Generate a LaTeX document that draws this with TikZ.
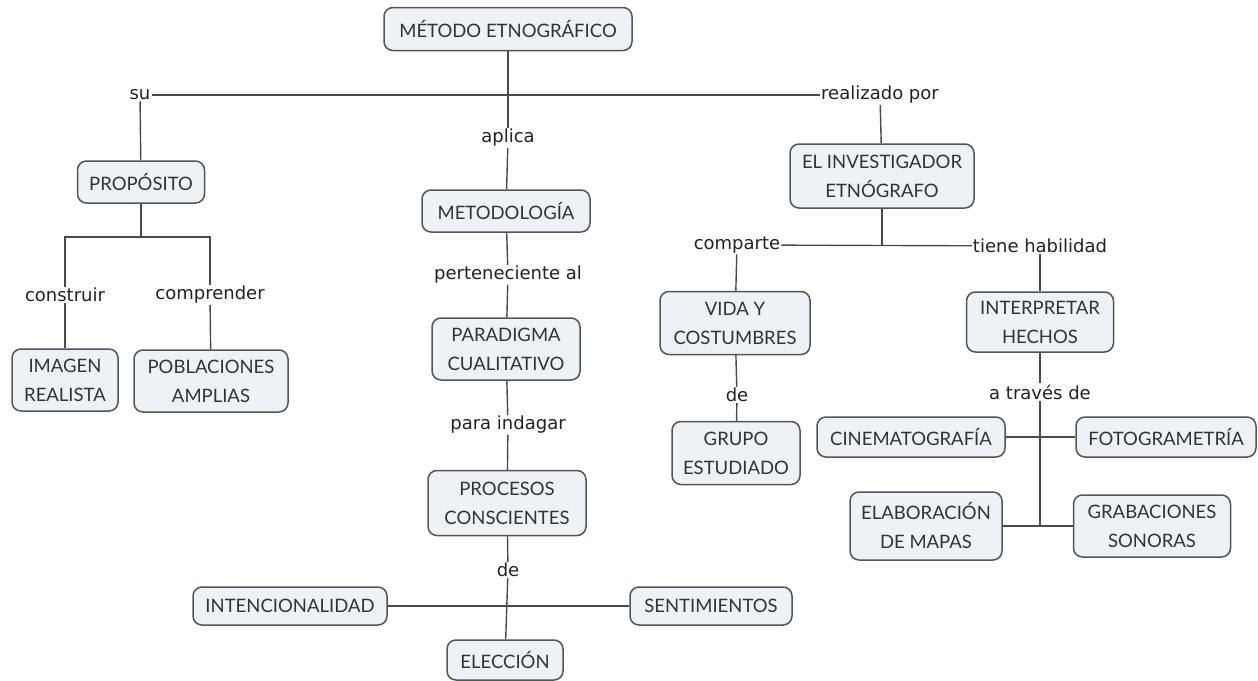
\documentclass[tikz,border=0pt]{standalone}
\usepackage{fontspec}
\setmainfont{Lato}
\newfontfamily\linkfont{DejaVu Sans}
\definecolor{boxfill}{HTML}{EDF2F6}
\definecolor{boxline}{HTML}{555555}
\definecolor{conceptText}{HTML}{333333}
\definecolor{linkText}{HTML}{222222}
\definecolor{lineGray}{HTML}{4A4A4A}
\begin{document}
\begin{tikzpicture}[x=1pt,y=-1pt,
  concept/.style={draw=boxline, line width=1.5pt, rounded corners=9pt, fill=boxfill,
    text=conceptText, font=\fontsize{18.5}{29}\selectfont, align=center, inner sep=0pt},
  linkword/.style={font=\linkfont\fontsize{18}{20}\selectfont, text=linkText, inner sep=1pt},
  conn/.style={draw=lineGray, line width=1.4pt}]
\useasboundingbox[fill=white] (0,0) rectangle (1258,680);

% concepts
\node[concept, minimum width=248, minimum height=43] (metodo) at (508,29) {MÉTODO ETNOGRÁFICO};
\node[concept, minimum width=127, minimum height=42] (proposito) at (141,182) {PROPÓSITO};
\node[concept, minimum width=106, minimum height=62] (imagen) at (65,380) {IMAGEN\\REALISTA};
\node[concept, minimum width=154, minimum height=62] (poblaciones) at (211,381) {POBLACIONES\\AMPLIAS};
\node[concept, minimum width=168, minimum height=42] (metodologia) at (506,211) {METODOLOGÍA};
\node[concept, minimum width=148, minimum height=62] (paradigma) at (506,349) {PARADIGMA\\CUALITATIVO};
\node[concept, minimum width=158, minimum height=65] (procesos) at (507,503) {PROCESOS\\CONSCIENTES};
\node[concept, minimum width=194, minimum height=38] (intencionalidad) at (290,606) {INTENCIONALIDAD};
\node[concept, minimum width=162, minimum height=38] (sentimientos) at (711,606) {SENTIMIENTOS};
\node[concept, minimum width=116, minimum height=40] (eleccion) at (505,660) {ELECCIÓN};
\node[concept, minimum width=184, minimum height=64] (investigador) at (882,176) {EL INVESTIGADOR\\ETNÓGRAFO};
\node[concept, minimum width=150, minimum height=63] (vida) at (735,323) {VIDA Y\\COSTUMBRES};
\node[concept, minimum width=128, minimum height=63] (grupo) at (736,453) {GRUPO\\ESTUDIADO};
\node[concept, minimum width=147, minimum height=60] (interpretar) at (1040,322) {INTERPRETAR\\HECHOS};
\node[concept, minimum width=188, minimum height=40] (cine) at (911,437) {CINEMATOGRAFÍA};
\node[concept, minimum width=180, minimum height=40] (foto) at (1166,437) {FOTOGRAMETRÍA};
\node[concept, minimum width=152, minimum height=68] (elaboracion) at (926,526) {ELABORACIÓN\\DE MAPAS};
\node[concept, minimum width=157, minimum height=62] (grabaciones) at (1152,526) {GRABACIONES\\SONORAS};

% linking phrases
\node[linkword] (su) at (140,95) {su};
\node[linkword] (aplica) at (508,138) {aplica};
\node[linkword] (realizado) at (880,95) {realizado por};
\node[linkword] (construir) at (65,295) {construir};
\node[linkword] (comprender) at (210,295) {comprender};
\node[linkword] (perteneciente) at (508,275) {perteneciente al};
\node[linkword] (indagar) at (508,425) {para indagar};
\node[linkword] (deA) at (508,570) {de};
\node[linkword] (comparte) at (737,245) {comparte};
\node[linkword] (tiene) at (1040,246) {tiene habilidad};
\node[linkword] (deB) at (737,395) {de};
\node[linkword] (atraves) at (1040,392) {a través de};

% junction points
\coordinate (jP) at (141,237);
\coordinate (jI) at (882,245);
\coordinate (jA) at (1040,526);

% connectors
\draw[conn] (su) -- (realizado);
\draw[conn] (metodo) -- (aplica);
\draw[conn] (su) -- (proposito);
\draw[conn] (proposito) -- (jP);
\draw[conn] (construir) |- (jP) -| (comprender);
\draw[conn] (construir) -- (imagen);
\draw[conn] (comprender) -- (poblaciones);
\draw[conn] (aplica) -- (metodologia);
\draw[conn] (metodologia) -- (perteneciente);
\draw[conn] (perteneciente) -- (paradigma);
\draw[conn] (paradigma) -- (indagar);
\draw[conn] (indagar) -- (procesos);
\draw[conn] (procesos) -- (deA);
\draw[conn] (deA) -- (eleccion);
\draw[conn] (intencionalidad) -- (sentimientos);
\draw[conn] (realizado) -- (investigador);
\draw[conn] (investigador) -- (jI);
\draw[conn] (comparte) -- (tiene);
\draw[conn] (comparte) -- (vida);
\draw[conn] (vida) -- (deB);
\draw[conn] (deB) -- (grupo);
\draw[conn] (tiene) -- (interpretar);
\draw[conn] (interpretar) -- (atraves);
\draw[conn] (atraves) -- (jA);
\draw[conn] (cine) -- (foto);
\draw[conn] (elaboracion) -- (grabaciones);
\end{tikzpicture}
\end{document}
